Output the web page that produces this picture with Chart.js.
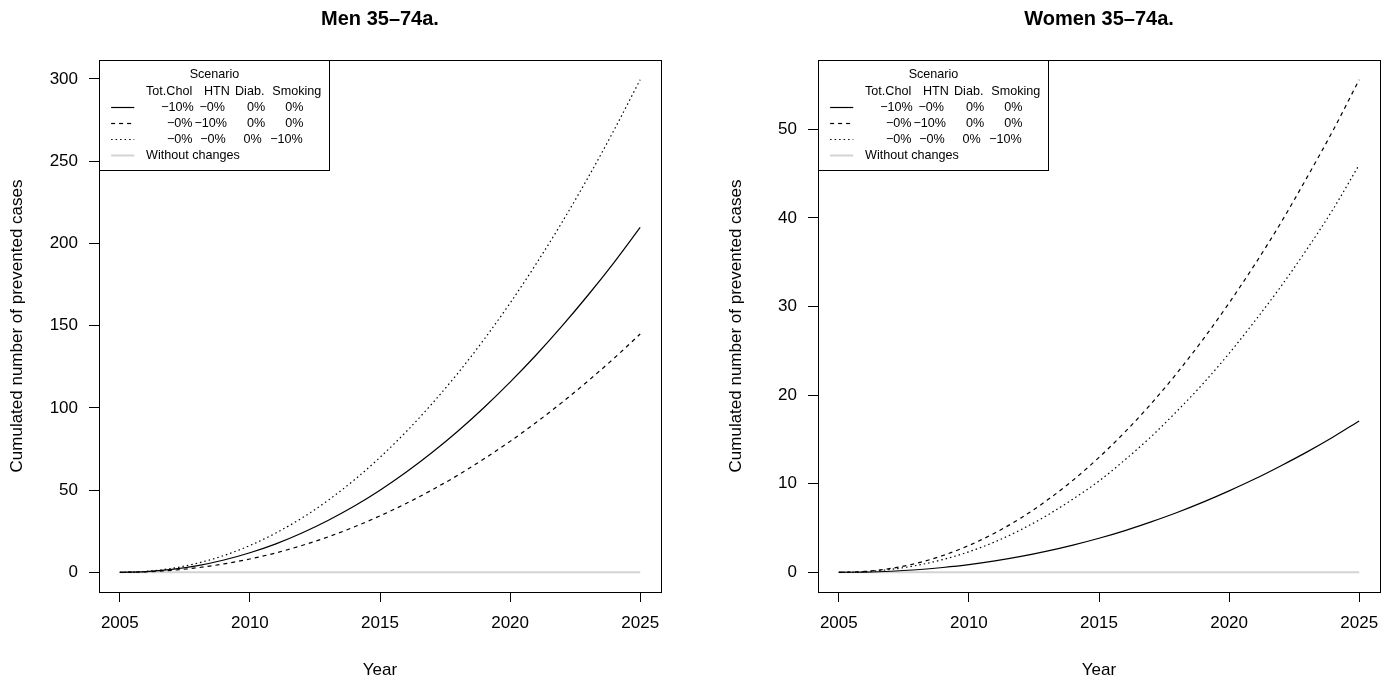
<!DOCTYPE html>
<html>
<head>
<meta charset="utf-8">
<script src="https://cdn.jsdelivr.net/npm/chart.js@4.4.1/dist/chart.umd.min.js"></script>
<style>
  html, body { margin: 0; padding: 0; background: #fff; }
  #wrap { position: relative; width: 1392px; height: 688px; }
  .panel { position: absolute; top: 0; width: 696px; height: 688px; }
</style>
</head>
<body>
<div id="wrap">
  <div class="panel" style="left:0"><canvas id="men" width="696" height="688"></canvas></div>
  <div class="panel" style="left:696px"><canvas id="women" width="696" height="688"></canvas></div>
</div>
<script>
  // cumulated prevented cases, one value per year
  const years = [2005, 2006, 2007, 2008, 2009, 2010, 2011, 2012, 2013, 2014, 2015,
                 2016, 2017, 2018, 2019, 2020, 2021, 2022, 2023, 2024, 2025];

  const menTotChol = [0, 0.43, 1.8, 4.1, 7.5, 11.9, 17.3, 23.9, 31.5, 40.1, 49.9,
                      60.8, 72.8, 85.9, 100.2, 115.6, 132.1, 149.8, 168.6, 188.5, 209.7];
  const menHTN = [0, 0.29, 1.2, 2.8, 5.1, 8.1, 11.8, 16.3, 21.5, 27.5, 34.3,
                  41.8, 50.1, 59.1, 69.0, 79.6, 91.1, 103.3, 116.4, 130.2, 144.9];
  const menSmoking = [0, 0.56, 2.4, 5.6, 10.2, 16.3, 23.9, 33.0, 43.7, 56.0, 69.9,
                      85.4, 102.5, 121.2, 141.6, 163.7, 187.5, 212.9, 240.1, 269.0, 299.5];

  const womenTotChol = [0, 0.03, 0.12, 0.29, 0.54, 0.86, 1.28, 1.79, 2.39, 3.07, 3.84,
                        4.71, 5.69, 6.75, 7.92, 9.19, 10.55, 12.03, 13.59, 15.27, 17.08];
  const womenHTN = [0, 0.10, 0.44, 1.03, 1.89, 3.03, 4.44, 6.13, 8.12, 10.39, 12.97,
                    15.84, 19.01, 22.5, 26.3, 30.4, 34.8, 39.5, 44.6, 49.9, 55.6];
  const womenSmoking = [0, 0.07, 0.33, 0.78, 1.44, 2.32, 3.44, 4.81, 6.42, 8.27, 10.3,
                        12.7, 15.3, 18.2, 21.3, 24.7, 28.4, 32.3, 36.5, 41.0, 46.0];

  const noChange = years.map(() => 0);

  const xTicks = [2005, 2010, 2015, 2020, 2025];
  const menYTicks = [0, 50, 100, 150, 200, 250, 300];
  const womenYTicks = [0, 10, 20, 30, 40, 50];

  const legendTitle = "Scenario";
  const legendHeader = ["Tot.Chol", "HTN", "Diab.", "Smoking"];
  const legendRows = [
    ["\u221210%", "\u22120%", "0%", "0%"],
    ["\u22120%", "\u221210%", "0%", "0%"],
    ["\u22120%", "\u22120%", "0%", "\u221210%"],
  ];
  const noChangeLabel = "Without changes";

  const FONT = "'Liberation Sans', Arial, Helvetica, sans-serif";

  function pts(vals) {
    return years.map((y, i) => ({ x: y, y: vals[i] }));
  }

  // R style box + legend in the top left corner
  const boxAndLegend = {
    id: "boxAndLegend",
    afterDraw(chart) {
      const { ctx, chartArea: a } = chart;
      ctx.save();
      ctx.strokeStyle = "#000";
      ctx.lineWidth = 1;
      const L = Math.round(a.left) + 0.5, T = Math.round(a.top) + 0.5;
      ctx.strokeRect(L, T, Math.round(a.right - a.left), Math.round(a.bottom - a.top));

      // legend
      const w = 230, h = 110;
      ctx.fillStyle = "#fff";
      ctx.fillRect(L, T, w, h);
      ctx.strokeRect(L, T, w, h);
      ctx.fillStyle = "#000";
      ctx.font = "12.6px " + FONT;
      ctx.textBaseline = "middle";
      ctx.textAlign = "center";
      ctx.fillText(legendTitle, L + 115, T + 14);
      ctx.textAlign = "left";
      const headX = [46.5, 104.5, 135.5, 172.8];
      legendHeader.forEach((s, i) => ctx.fillText(s, L + headX[i], T + 31));
      const cellX = [
        [61.7, 100, 147.4, 185.7],
        [67.4, 95, 147.4, 185.7],
        [67.4, 100.7, 144, 170.7],
      ];
      const rowY = [47, 63, 79, 95];
      const ds = chart.data.datasets;
      for (let r = 0; r < 4; r++) {
        const d = ds[r];
        ctx.save();
        ctx.strokeStyle = d.borderColor;
        ctx.lineWidth = d.borderWidth;
        ctx.setLineDash(d.borderDash || []);
        ctx.beginPath();
        ctx.moveTo(L + 11.6, T + rowY[r]);
        ctx.lineTo(L + 34.8, T + rowY[r]);
        ctx.stroke();
        ctx.restore();
        if (r < 3) {
          legendRows[r].forEach((s, i) => ctx.fillText(s, L + cellX[r][i], T + rowY[r]));
        } else {
          ctx.fillText(noChangeLabel, L + 46.5, T + rowY[r]);
        }
      }
      ctx.restore();
    }
  };

  function makeChart(id, title, chol, htn, smoking, yTicks, padLeft, padRight) {
    const all = chol.concat(htn, smoking, noChange);
    const lo = Math.min(...all), hi = Math.max(...all);
    const yr = hi - lo;
    const xr = years[years.length - 1] - years[0];
    const tickFont = { family: FONT, size: 17 };

    new Chart(document.getElementById(id), {
      type: "line",
      data: {
        datasets: [
          { label: "Tot.Chol", data: pts(chol), borderColor: "#000", borderWidth: 1.2, borderDash: [] },
          { label: "HTN", data: pts(htn), borderColor: "#000", borderWidth: 1.2, borderDash: [4, 4] },
          { label: "Smoking", data: pts(smoking), borderColor: "#000", borderWidth: 1.2, borderDash: [1.5, 3] },
          { label: noChangeLabel, data: pts(noChange), borderColor: "#d3d3d3", borderWidth: 2, borderDash: [] },
        ],
      },
      options: {
        responsive: false,
        devicePixelRatio: 1,
        animation: false,
        layout: { padding: { left: padLeft, right: padRight, top: 0, bottom: 0 } },
        elements: {
          point: { radius: 0 },
          line: { cubicInterpolationMode: "monotone", fill: false },
        },
        plugins: {
          legend: { display: false },
          tooltip: { enabled: false },
          title: {
            display: true,
            text: title,
            fullSize: false,
            color: "#000",
            font: { family: FONT, size: 20, weight: "bold" },
            padding: { top: 7, bottom: 29 },
          },
        },
        scales: {
          x: {
            type: "linear",
            min: years[0] - 0.04 * xr,
            max: years[years.length - 1] + 0.04 * xr,
            afterBuildTicks: (s) => { s.ticks = xTicks.map((v) => ({ value: v })); },
            afterFit: (s) => { s.height = 96; },
            ticks: { font: tickFont, color: "#000", padding: 11, maxRotation: 0, autoSkip: false,
                     callback: (v) => String(v) },
            grid: { drawOnChartArea: false, drawTicks: true, tickLength: 10, color: "#000", lineWidth: 1 },
            border: { display: true, color: "#000", width: 1 },
            title: { display: true, text: "Year", color: "#000", font: tickFont, padding: { top: 0, bottom: 7 } },
          },
          y: {
            type: "linear",
            min: lo - 0.04 * yr,
            max: hi + 0.04 * yr,
            afterBuildTicks: (s) => { s.ticks = yTicks.map((v) => ({ value: v })); },
            afterFit: (s) => { s.width = 99; },
            ticks: { font: tickFont, color: "#000", padding: 11, autoSkip: false,
                     callback: (v) => String(v) },
            grid: { drawOnChartArea: false, drawTicks: true, tickLength: 10, color: "#000", lineWidth: 1 },
            border: { display: true, color: "#000", width: 1 },
            title: { display: true, text: "Cumulated number of prevented cases", color: "#000",
                     font: tickFont, padding: { top: 7, bottom: 0 } },
          },
        },
      },
      plugins: [boxAndLegend],
    });
  }

  makeChart("men", "Men 35\u201374a.", menTotChol, menHTN, menSmoking, menYTicks, 0, 35);
  makeChart("women", "Women 35\u201374a.", womenTotChol, womenHTN, womenSmoking, womenYTicks, 23, 12);
</script>
</body>
</html>
